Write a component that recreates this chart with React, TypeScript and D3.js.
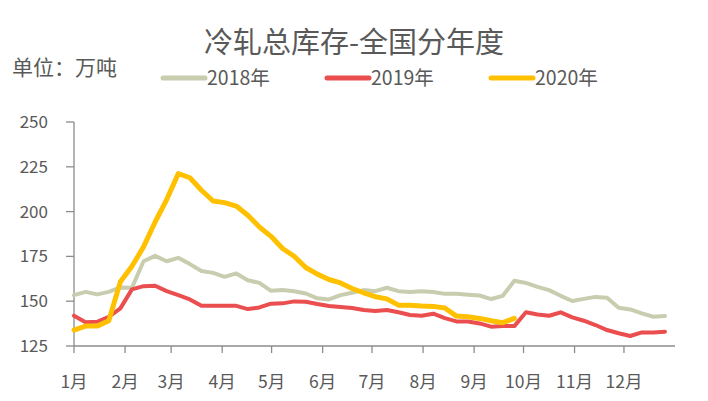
import React from "react";
import * as d3 from "d3";

const months = ["1月", "2月", "3月", "4月", "5月", "6月", "7月", "8月", "9月", "10月", "11月", "12月"];
const yTicks = [125, 150, 175, 200, 225, 250];
const seriesNames = ["2018年", "2019年", "2020年"];
const seriesColors = ["#c8cdaf", "#ea4e4e", "#ffc000"];

const data2018 = [
  153.4, 155.2, 153.8, 155.2, 157.7, 157.5, 172.3, 175.3, 172.3, 174.2,
  170.7, 166.9, 165.8, 163.6, 165.5, 161.7, 160.2, 155.8, 156.2, 155.6,
  154.3, 151.6, 151.0, 153.4, 154.7, 156.2, 155.6, 157.5, 155.6, 155.1,
  155.6, 155.1, 154.1, 154.1, 153.6, 153.2, 151.2, 153.0, 161.4, 160.2,
  158.0, 156.2, 153.0, 150.1, 151.3, 152.4, 151.9, 146.3, 145.4, 143.2,
  141.3, 141.7,
];
const data2019 = [
  141.9, 138.2, 138.5, 141.3, 146.0, 156.6, 158.4, 158.6, 155.6, 153.4,
  151.0, 147.4, 147.4, 147.4, 147.4, 145.6, 146.5, 148.6, 148.8, 149.9,
  149.7, 148.4, 147.3, 146.7, 146.2, 145.1, 144.5, 145.1, 143.8, 142.3,
  141.9, 143.0, 140.6, 138.7, 138.7, 137.6, 135.8, 136.1, 136.1, 143.8,
  142.6, 141.9, 143.8, 141.0, 139.1, 136.7, 133.9, 132.1, 130.6, 132.6,
  132.6, 133.0,
];
const data2020 = [
  133.9, 136.1, 136.1, 139.1, 160.8, 169.5, 180.3, 194.2, 206.7, 221.2,
  218.9, 211.9, 205.9, 205.0, 203.1, 198.0, 191.4, 186.2, 179.4, 175.1,
  168.8, 165.1, 162.1, 160.2, 157.1, 154.7, 152.5, 151.3, 147.8, 147.7,
  147.3, 147.1, 146.2, 141.7, 141.3, 140.4, 139.1, 138.0, 140.4,
];
const allSeries = [data2018, data2019, data2020];
const widths = [4, 4, 5];

const W = 708;
const H = 401;
const left = 74;
const right = 675;
const top = 122;
const bottom = 346;
const font = "'Noto Sans CJK SC', 'Noto Sans', sans-serif";
const textColor = "#595959";
const axisColor = "#8c8c8c";

export default function App() {
  const timeX = d3
    .scaleTime()
    .domain([new Date(2019, 0, 1), new Date(2020, 0, 1)])
    .range([left, right]);
  const monthDates = d3.timeMonth.range(new Date(2019, 0, 1), new Date(2020, 0, 1));
  const weekX = d3.scaleLinear().domain([0, 51]).range([left, 665]);
  const y = d3.scaleLinear().domain([125, 250]).range([bottom, top]);
  const line = d3
    .line<number>()
    .x((_, i) => weekX(i))
    .y((d) => y(d));

  const legendX = [163, 327, 491];

  return (
    <svg
      width={W}
      height={H}
      style={{ position: "absolute", left: 0, top: 0, background: "#fff" }}
      fontFamily={font}
    >
      <text x={354} y={53} textAnchor="middle" fontSize={29} fill={textColor}>
        冷轧总库存-全国分年度
      </text>
      <text x={12} y={75} fontSize={21} fill={textColor}>
        单位：万吨
      </text>
      {seriesNames.map((n, i) => (
        <g key={n}>
          <line
            x1={legendX[i]}
            x2={legendX[i] + 42}
            y1={78}
            y2={78}
            stroke={seriesColors[i]}
            strokeWidth={5}
            strokeLinecap="round"
          />
          <text x={legendX[i] + 44} y={85} fontSize={19.5} fill={textColor}>
            {n}
          </text>
        </g>
      ))}

      {/* y axis */}
      <line x1={left} x2={left} y1={top} y2={bottom} stroke={axisColor} strokeWidth={1.3} />
      {yTicks.map((t) => (
        <g key={t}>
          <line x1={left - 8} x2={left} y1={y(t)} y2={y(t)} stroke={axisColor} strokeWidth={1.3} />
          <text x={48} y={y(t) + 6} textAnchor="end" fontSize={17} fill={textColor}>
            {t}
          </text>
        </g>
      ))}

      {/* x axis */}
      <line x1={left} x2={right} y1={bottom} y2={bottom} stroke={axisColor} strokeWidth={1.3} />
      {monthDates.map((d, i) => (
        <g key={i}>
          <line
            x1={timeX(d)}
            x2={timeX(d)}
            y1={bottom}
            y2={bottom + 7}
            stroke={axisColor}
            strokeWidth={1.3}
          />
          <text x={timeX(d)} y={388} textAnchor="middle" fontSize={17.5} fill={textColor}>
            {months[i]}
          </text>
        </g>
      ))}

      {allSeries.map((s, i) => (
        <path
          key={i}
          d={line(s) || ""}
          fill="none"
          stroke={seriesColors[i]}
          strokeWidth={widths[i]}
          strokeLinejoin="round"
          strokeLinecap="round"
        />
      ))}
    </svg>
  );
}
